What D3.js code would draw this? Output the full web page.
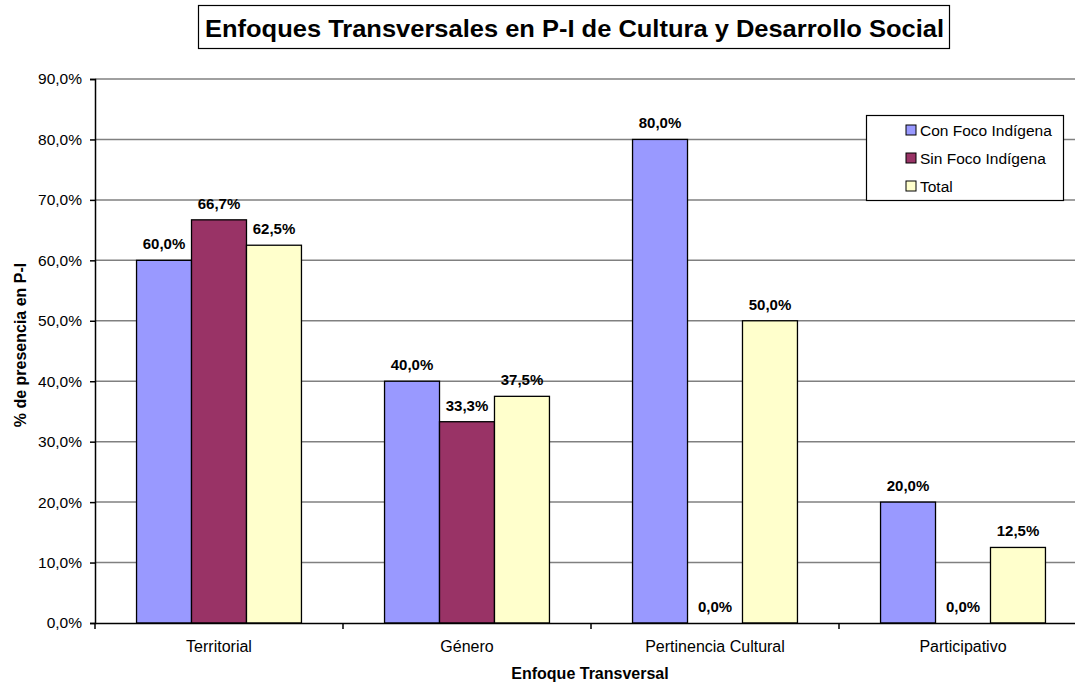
<!DOCTYPE html>
<meta charset="utf-8">
<style>
body { margin: 0; background: #fff; font-family: "Liberation Sans", Arial, sans-serif; }
svg { display: block; }
</style>
<body>
<script src="https://d3js.org/d3.v7.min.js"></script>
<div id="chart"></div>
<script>

// données
var categorias = ["Territorial", "Género", "Pertinencia Cultural", "Participativo"];
var series = ["Con Foco Indígena", "Sin Foco Indígena", "Total"];
var conFoco = [60.0, 40.0, 80.0, 20.0];
var sinFoco = [66.7, 33.3, 0.0, 0.0];
var total = [62.5, 37.5, 50.0, 12.5];
var colores = ["#9999ff", "#993366", "#ffffcc"];
var yTicks = [0, 10, 20, 30, 40, 50, 60, 70, 80, 90];

var largeur = 1075, hauteur = 683;
var margin = {top: 79, right: -12, bottom: 60, left: 95};

var svg = d3.select("#chart").append("svg")
    .attr("width", largeur)
    .attr("height", hauteur)
    .style("font-family", "'Liberation Sans', Arial, sans-serif");

var x0 = d3.scaleBand()
    .domain(categorias)
    .range([margin.left, largeur - margin.right])
    .paddingInner(0.335)
    .paddingOuter(0.1675);
// bandes sans padding pour les ticks
var xCat = d3.scaleBand()
    .domain(categorias)
    .range([margin.left, largeur - margin.right]);
var x1 = d3.scaleBand()
    .domain(series)
    .range([0, x0.bandwidth()]);
var y = d3.scaleLinear()
    .domain([0, 90])
    .range([hauteur - margin.bottom, margin.top]);

var fmt = function(v) { return d3.format(".1f")(v).replace(".", ",") + "%"; };

// grille
svg.append("g")
    .selectAll("line")
    .data(yTicks.slice(1))
    .enter().append("line")
        .attr("x1", margin.left)
        .attr("x2", largeur - margin.right)
        .attr("y1", d => y(d))
        .attr("y2", d => y(d))
        .attr("stroke", "#808080")
        .attr("stroke-width", 1.5);

// axe y
var yAxis = d3.axisLeft(y).tickValues(yTicks).tickFormat(fmt).tickSize(5).tickPadding(8);
svg.append("g")
    .attr("transform", "translate(" + margin.left + ",0)")
    .call(yAxis)
    .call(g => g.select(".domain").attr("stroke", "#000").attr("stroke-width", 1.5))
    .call(g => g.selectAll(".tick line").attr("stroke", "#000").attr("stroke-width", 1.5))
    .call(g => g.selectAll(".tick text").style("font-size", "15.5px").attr("fill", "#000"));

// barres
var valeurs = [conFoco, sinFoco, total];
var groupes = svg.append("g")
    .selectAll("g")
    .data(categorias)
    .enter().append("g")
        .attr("transform", d => "translate(" + x0(d) + ",0)");

groupes.selectAll("rect")
    .data((c, i) => series.map((s, j) => ({serie: s, j: j, v: valeurs[j][i]})))
    .enter().append("rect")
        .attr("x", d => x1(d.serie))
        .attr("y", d => y(d.v))
        .attr("width", x1.bandwidth())
        .attr("height", d => y(0) - y(d.v))
        .attr("fill", d => colores[d.j])
        .attr("stroke", "#000")
        .attr("stroke-width", d => d.v > 0 ? 1.3 : 0);

groupes.selectAll("text")
    .data((c, i) => series.map((s, j) => ({serie: s, j: j, v: valeurs[j][i]})))
    .enter().append("text")
        .attr("x", d => x1(d.serie) + x1.bandwidth() / 2)
        .attr("y", d => y(d.v) - 11)
        .attr("text-anchor", "middle")
        .style("font-size", "15px")
        .style("font-weight", "bold")
        .text(d => fmt(d.v));

// axe x
var xAxis = d3.axisBottom(xCat).tickSize(0).tickPadding(18);
svg.append("g")
    .attr("transform", "translate(0," + y(0) + ")")
    .call(xAxis)
    .call(g => g.select(".domain").attr("stroke", "#000").attr("stroke-width", 1.5))
    .call(g => g.selectAll(".tick text").style("font-size", "16px").attr("fill", "#000"));

// ticks entre catégories
svg.append("g")
    .selectAll("line")
    .data(categorias)
    .enter().append("line")
        .attr("x1", d => xCat(d))
        .attr("x2", d => xCat(d))
        .attr("y1", y(0))
        .attr("y2", y(0) + 6)
        .attr("stroke", "#000")
        .attr("stroke-width", 1.5);

// titres des axes
svg.append("text")
    .attr("x", 590)
    .attr("y", 679)
    .attr("text-anchor", "middle")
    .style("font-size", "16px")
    .style("font-weight", "bold")
    .text("Enfoque Transversal");

svg.append("text")
    .attr("transform", "translate(26," + 345 + ") rotate(-90)")
    .attr("text-anchor", "middle")
    .style("font-size", "16px")
    .style("font-weight", "bold")
    .text("% de presencia en P-I");

// titre
svg.append("rect")
    .attr("x", 198.5)
    .attr("y", 5.5)
    .attr("width", 751)
    .attr("height", 43)
    .attr("fill", "#fff")
    .attr("stroke", "#000")
    .attr("stroke-width", 1.2);
svg.append("text")
    .attr("x", 205)
    .attr("y", 36.5)
    .attr("textLength", 739)
    .attr("lengthAdjust", "spacingAndGlyphs")
    .style("font-size", "24px")
    .style("font-weight", "bold")
    .text("Enfoques Transversales en P-I de Cultura y Desarrollo Social");

// légende
var leg = svg.append("g").attr("transform", "translate(866,115)");
leg.append("rect")
    .attr("x", 0.5).attr("y", 0.5)
    .attr("width", 197).attr("height", 85)
    .attr("fill", "#fff")
    .attr("stroke", "#000")
    .attr("stroke-width", 1.2);
var items = leg.selectAll("g.item")
    .data(series)
    .enter().append("g")
        .attr("class", "item")
        .attr("transform", (d, i) => "translate(0," + (15 + i * 28) + ")");
items.append("rect")
    .attr("x", 40).attr("y", -5)
    .attr("width", 10).attr("height", 10)
    .attr("fill", (d, i) => colores[i])
    .attr("stroke", "#000");
items.append("text")
    .attr("x", 54)
    .attr("y", 6)
    .style("font-size", "15.5px")
    .text(d => d);

</script>
</body>
